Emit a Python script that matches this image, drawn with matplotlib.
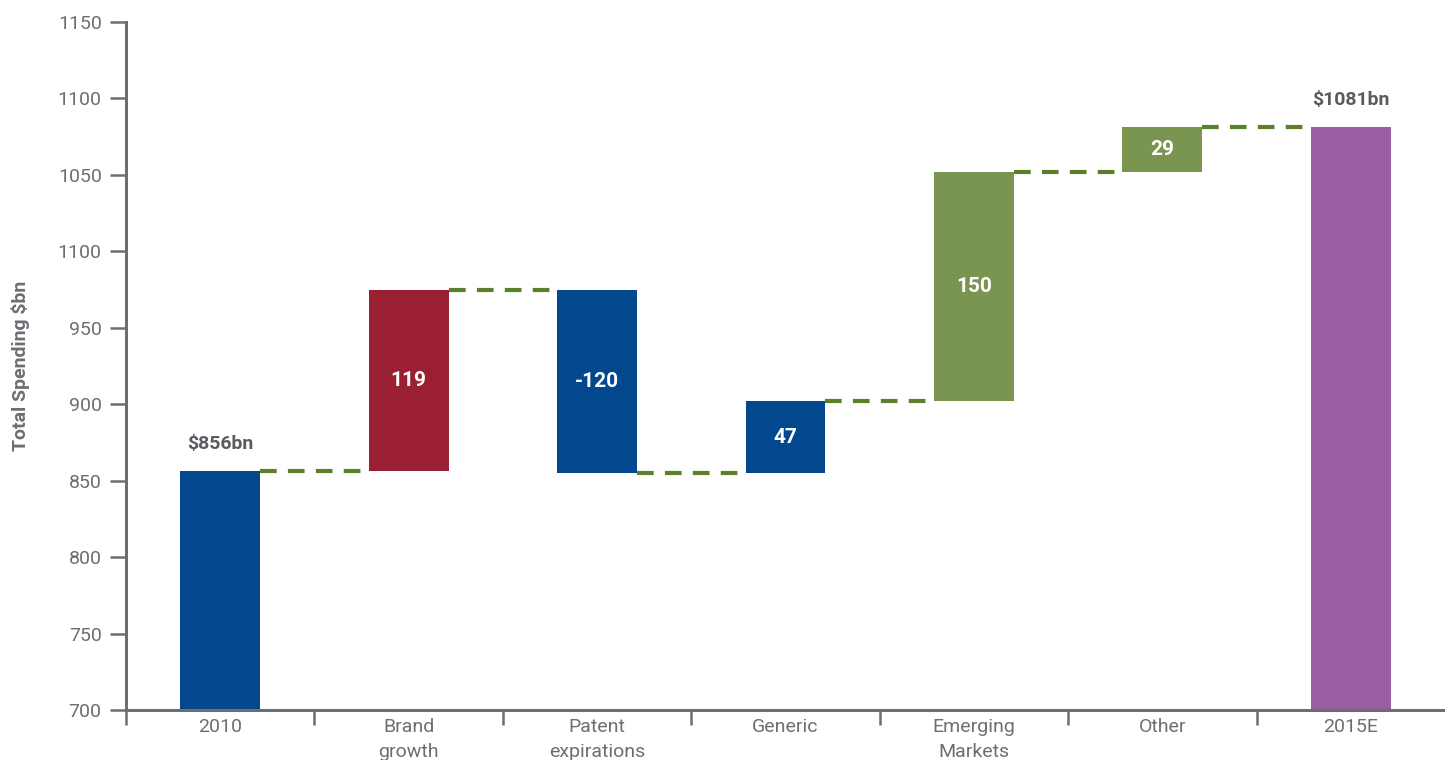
import matplotlib
matplotlib.use('Agg')
import matplotlib.pyplot as plt
import numpy as np

# Waterfall: 2010 spending -> 2015E spending ($bn)
kategorien = ['2010', 'Brand\ngrowth', 'Patent\nexpirations', 'Generic',
              'Emerging\nMarkets', 'Other', '2015E']
start_wert = 856
aenderungen = [119, -120, 47, 150, 29]
end_wert = 1081
balken_texte = ['$856bn', '119', '-120', '47', '150', '29', '$1081bn']
y_ticks = [700, 750, 800, 850, 900, 950, 1000, 1050, 1100, 1150]
y_tick_texte = ['700', '750', '800', '850', '900', '950', '1100', '1050', '1100', '1150']

farben = ['#03478e', '#9b1f33', '#03478e', '#03478e', '#7a954f', '#7a954f', '#9a5ea3']
achsfarbe = '#6d6e73'
y_min, y_max = 700, 1150

plt.rcParams['font.family'] = ['Roboto', 'DejaVu Sans']

# Balkenunterkanten und -hoehen aus den kumulierten Werten
stufen = np.concatenate([[start_wert], start_wert + np.cumsum(aenderungen)])
unten = [y_min]
hoehe = [start_wert - y_min]
for i, d in enumerate(aenderungen):
   unten.append(min(stufen[i], stufen[i + 1]))
   hoehe.append(abs(d))
unten.append(y_min)
hoehe.append(end_wert - y_min)

fig = plt.figure(figsize=(14.45, 7.6), dpi=100)
ax = fig.add_axes([126/1445, 50/760, 1.0 - 126/1445, 688/760])

x = np.arange(len(kategorien))
breite = 0.424
ax.bar(x, hoehe, bottom=unten, width=breite, color=farben, zorder=2)

# gestrichelte Verbindungslinien zwischen den Stufen
niveaus = list(stufen) + [end_wert]
for i in range(len(kategorien) - 1):
   ax.plot([x[i] + breite/2, x[i + 1] - breite/2], [niveaus[i], niveaus[i]],
           color='#5b7f2a', lw=3, dashes=(4, 2.7), zorder=1)

# Beschriftungen
for i, txt in enumerate(balken_texte):
   if i == 0 or i == len(kategorien) - 1:
      ax.text(x[i], unten[i] + hoehe[i] + 12, txt, ha='center', va='bottom',
              fontsize=14, fontweight='bold', color='#5a5b61')
   else:
      ax.text(x[i], unten[i] + hoehe[i]/2, txt, ha='center', va='center',
              fontsize=15, fontweight='bold', color='white')

ax.set_xlim(-0.5, len(kategorien) - 0.5)
ax.set_ylim(y_min, y_max)

ax.set_yticks(y_ticks)
ax.set_yticklabels(y_tick_texte)
ax.set_xticks(x)
ax.set_xticklabels(kategorien, linespacing=1.45)
ax.set_xticks(np.arange(-0.5, len(kategorien) - 1, 1.0), minor=True)

ax.tick_params(axis='y', length=11.5, width=1.8, color=achsfarbe, labelcolor=achsfarbe,
               labelsize=14, pad=6)
ax.tick_params(axis='x', which='major', length=0, labelcolor=achsfarbe, labelsize=14, pad=6)
ax.tick_params(axis='x', which='minor', length=11, width=1.8, color=achsfarbe)

for seite in ['top', 'right']:
   ax.spines[seite].set_visible(False)
for seite in ['left', 'bottom']:
   ax.spines[seite].set_color(achsfarbe)
   ax.spines[seite].set_linewidth(2.2)

ax.set_ylabel('Total Spending $bn', fontsize=14, fontweight='bold', color=achsfarbe)
ax.yaxis.set_label_coords(-96/1319, 0.5)

fig.savefig('out.png', dpi=100)
